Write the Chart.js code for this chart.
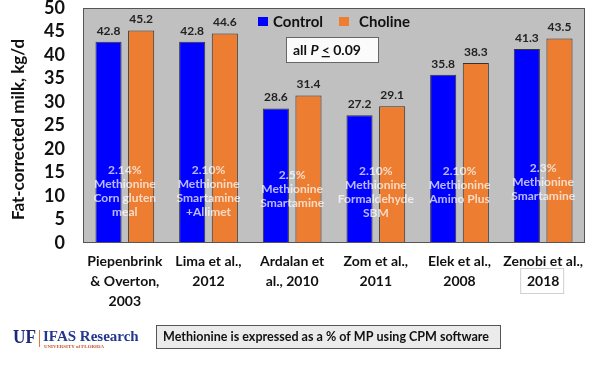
<!DOCTYPE html>
<html>
<head>
<meta charset="utf-8">
<script src="https://cdn.jsdelivr.net/npm/chart.js@4"></script>
<style>
html,body{margin:0;padding:0;background:#fff;}
#wrap{position:relative;width:600px;height:366px;}
canvas{display:block;}
</style>
</head>
<body>
<div id="wrap"><canvas id="c" width="600" height="366"></canvas></div>
<script>
// ---- data ----
const categories = [
  ["Piepenbrink", "& Overton,", "2003"],
  ["Lima et al.,", "2012"],
  ["Ardalan et", "al., 2010"],
  ["Zom et al.,", "2011"],
  ["Elek et al.,", "2008"],
  ["Zenobi et al.,", "2018"]
];
const controlValues = [42.8, 42.8, 28.6, 27.2, 35.8, 41.3];
const cholineValues = [45.2, 44.6, 31.4, 29.1, 38.3, 43.5];
const methionineNotes = [
  ["2.14%", "Methionine", "Corn gluten", "meal"],
  ["2.10%", "Methionine", "Smartamine", "+Allimet"],
  ["2.5%", "Methionine", "Smartamine"],
  ["2.10%", "Methionine", "Formaldehyde", "SBM"],
  ["2.10%", "Methionine", "Amino Plus"],
  ["2.3%", "Methionine", "Smartamine"]
];
const noteTopValues = [15.5, 15.5, 14.5, 15.3, 15.3, 15.9];
const yTicks = [0, 5, 10, 15, 20, 25, 30, 35, 40, 45, 50];
const seriesNames = ["Control", "Choline"];
const yTitle = "Fat-corrected milk, kg/d";
const footnote = "Methionine is expressed as a % of MP using CPM software";

const FONT = "Lato, 'Open Sans', sans-serif";

const decorPlugin = {
  id: 'decor',
  beforeDraw(chart) {
    const {ctx, chartArea: a} = chart;
    ctx.save();
    ctx.fillStyle = '#c0c0c0';
    ctx.fillRect(a.left, a.top, a.right - a.left, a.bottom - a.top);
    ctx.restore();
  },
  afterDatasetsDraw(chart) {
    const {ctx, chartArea: a, scales} = chart;
    const xs = scales.x, ys = scales.y;
    ctx.save();
    // plot border
    ctx.strokeStyle = '#555';
    ctx.lineWidth = 1;
    ctx.strokeRect(a.left + 0.5, a.top + 0.5, a.right - a.left - 1, a.bottom - a.top - 1);

    // value labels
    ctx.font = "bold 12px " + FONT;
    ctx.fillStyle = '#222';
    ctx.textAlign = 'center';
    ctx.textBaseline = 'bottom';
    chart.data.datasets.forEach((ds, di) => {
      const meta = chart.getDatasetMeta(di);
      meta.data.forEach((bar, i) => {
        ctx.fillText(ds.data[i].toFixed(1), bar.x, bar.y - 5);
      });
    });

    // methionine notes inside bars
    ctx.font = "bold 12px " + FONT;
    ctx.fillStyle = 'rgba(255,255,255,0.72)';
    ctx.textBaseline = 'middle';
    methionineNotes.forEach((lines, i) => {
      const cx = xs.getPixelForValue(i);
      const y0 = ys.getPixelForValue(noteTopValues[i]);
      lines.forEach((t, k) => ctx.fillText(t, cx, y0 + k * 14));
    });

    // legend
    ctx.font = "bold 15px " + FONT;
    ctx.textAlign = 'left';
    ctx.textBaseline = 'middle';
    const legX = [258, 339];
    chart.data.datasets.forEach((ds, di) => {
      ctx.fillStyle = ds.backgroundColor;
      ctx.fillRect(legX[di], 17, 10, 9);
      ctx.fillStyle = '#111';
      ctx.fillText(ds.label, legX[di] + (di === 0 ? 15 : 20), 22);
    });

    // P box
    ctx.fillStyle = '#fbfbfb';
    ctx.fillRect(286, 37, 92, 25);
    ctx.strokeStyle = '#666';
    ctx.strokeRect(286.5, 37.5, 92, 25);
    ctx.fillStyle = '#111';
    ctx.font = "bold 14px " + FONT;
    let x = 293;
    const yy = 50;
    ctx.fillText("all ", x, yy); x += ctx.measureText("all ").width;
    ctx.font = "italic bold 14px " + FONT;
    ctx.fillText("P", x, yy); x += ctx.measureText("P ").width;
    ctx.font = "bold 14px " + FONT;
    ctx.fillText("<", x, yy);
    const lw = ctx.measureText("<").width;
    ctx.fillRect(x, yy + 6, lw, 1.3);
    x += lw + ctx.measureText(" ").width;
    ctx.fillText("0.09", x, yy);

    // box around Zenobi year
    const zx = xs.getPixelForValue(5);
    ctx.strokeStyle = '#d0d0d0';
    ctx.lineWidth = 1;
    ctx.strokeRect(zx - 22.5, 268.5, 43, 25);

    // y title
    ctx.save();
    ctx.translate(19, (a.top + a.bottom) / 2 + 4);
    ctx.rotate(-Math.PI / 2);
    ctx.font = "bold 17px " + FONT;
    ctx.fillStyle = '#111';
    ctx.textAlign = 'center';
    ctx.textBaseline = 'middle';
    ctx.fillText(yTitle, 0, 0);
    ctx.restore();

    // footer: logo
    ctx.textAlign = 'left';
    ctx.textBaseline = 'alphabetic';
    ctx.fillStyle = '#1a2a78';
    ctx.font = "bold 19px 'Liberation Serif', serif";
    ctx.fillText("UF", 13, 343, 23);
    ctx.fillStyle = '#e07b39';
    ctx.fillRect(39, 330, 1, 17);
    ctx.fillStyle = '#23378f';
    ctx.font = "bold 15px 'Liberation Serif', serif";
    ctx.fillText("IFAS Research", 43, 341, 99);
    ctx.fillStyle = '#c0522a';
    ctx.font = "bold 5px 'Liberation Serif', serif";
    ctx.fillText("UNIVERSITY of FLORIDA", 44, 348, 60);

    // footnote box
    ctx.fillStyle = '#ebebeb';
    ctx.fillRect(156, 325, 344, 23);
    ctx.strokeStyle = '#555';
    ctx.strokeRect(156.5, 325.5, 344, 23);
    ctx.fillStyle = '#111';
    ctx.font = "bold 13.5px " + FONT;
    ctx.textBaseline = 'middle';
    ctx.fillText(footnote, 163, 337, 326);

    ctx.restore();
  }
};

new Chart(document.getElementById('c'), {
  type: 'bar',
  data: {
    labels: categories,
    datasets: [
      { label: seriesNames[0], data: controlValues, backgroundColor: '#0000ff',
        borderColor: '#333', borderWidth: 1, categoryPercentage: 0.78, barPercentage: 0.8 },
      { label: seriesNames[1], data: cholineValues, backgroundColor: '#ed7d31',
        borderColor: '#333', borderWidth: 1, categoryPercentage: 0.78, barPercentage: 0.8 }
    ]
  },
  options: {
    responsive: false,
    animation: false,
    events: [],
    layout: { padding: { top: 8, right: 15, left: 0, bottom: 0 } },
    plugins: { legend: { display: false }, tooltip: { enabled: false } },
    scales: {
      x: {
        grid: { display: false, drawTicks: false },
        border: { display: false },
        ticks: { color: '#111', font: { family: FONT, weight: 'bold', size: 14, lineHeight: 1.4 }, padding: 9, maxRotation: 0, autoSkip: false },
        afterFit(s) { s.height = 123; s.paddingLeft = 0; s.paddingRight = 0; }
      },
      y: {
        min: 0, max: 50,
        afterBuildTicks(s) { s.ticks = yTicks.map(v => ({ value: v })); },
        grid: { display: false, drawTicks: false },
        border: { display: false },
        ticks: { color: '#111', autoSkip: false, stepSize: 5, font: { family: FONT, weight: 'bold', size: 18 }, padding: 18 },
        afterFit(s) { s.width = 83; s.paddingTop = 0; s.paddingBottom = 0; }
      }
    }
  },
  plugins: [decorPlugin]
});
</script>
</body>
</html>
